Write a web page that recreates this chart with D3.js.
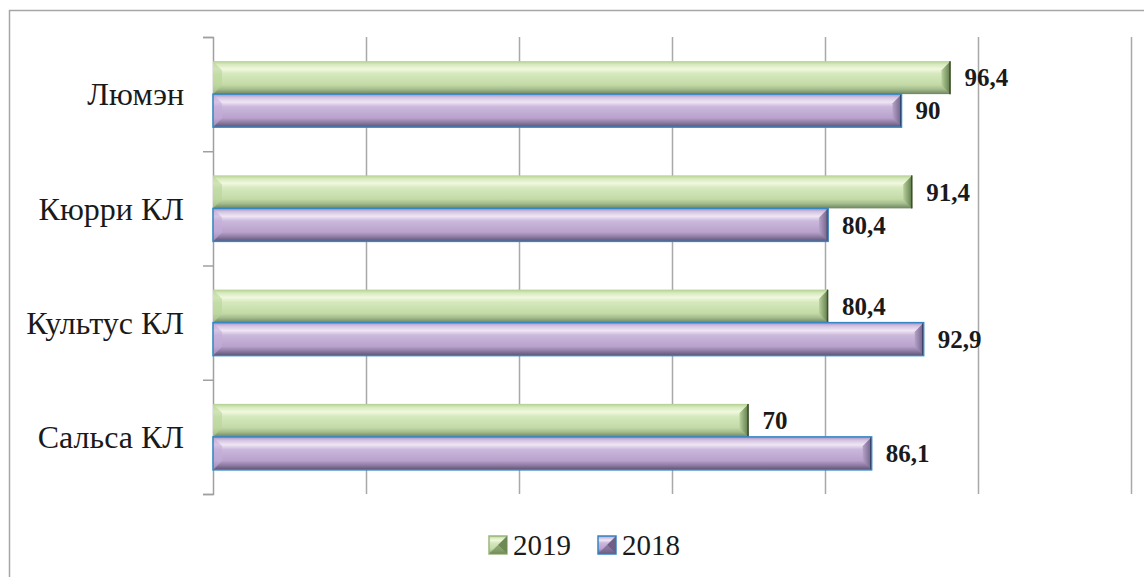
<!DOCTYPE html>
<html>
<head>
<meta charset="utf-8">
<script src="https://cdn.jsdelivr.net/npm/d3@7"></script>
<style>
  body { margin: 0; background: #fff; }
  text { font-family: "Liberation Serif", "DejaVu Serif", "Noto Serif", "Tinos", "FreeSerif", "Times New Roman", Times, serif; }
</style>
</head>
<body>
<div id="chart"></div>
<script>
// Chart data
var categories = ["Люмэн", "Кюрри КЛ", "Культус КЛ", "Сальса КЛ"];
var seriesNames = ["2019", "2018"];
var values2019 = [96.4, 91.4, 80.4, 70];
var values2018 = [90, 80.4, 92.9, 86.1];
var gridTicks = [20, 40, 60, 80, 100, 120];

var svgWidth = 1144;
var svgHeight = 577;

var plot = { left: 213, top: 37, right: 1131, bottom: 494 };

var svg = d3.select("#chart")
  .append("svg")
    .attr("width", svgWidth)
    .attr("height", svgHeight);

var defs = svg.append("defs");

// Gradients for the bevelled bars
function grad(id, vertical, stops) {
  var g = defs.append("linearGradient")
    .attr("id", id)
    .attr("x1", 0).attr("y1", 0)
    .attr("x2", vertical ? 0 : 1).attr("y2", vertical ? 1 : 0);
  stops.forEach(function(s) {
    g.append("stop").attr("offset", s[0]).attr("stop-color", s[1]);
  });
}

grad("g2019", true, [[0, "#b3cf92"], [0.1, "#d6eabd"], [0.24, "#f1f8df"], [0.38, "#d5e9bd"], [0.72, "#c3daa7"], [0.86, "#a2b98a"], [1, "#6d8560"]]);
grad("g2018", true, [[0, "#a88fc2"], [0.1, "#d3c3e2"], [0.24, "#efe6f5"], [0.38, "#cbb8dc"], [0.72, "#b9a2cd"], [0.86, "#8f7ca4"], [1, "#5f5272"]]);
grad("r2019", false, [[0, "#b7d09b"], [1, "#5f7a4a"]]);
grad("r2018", false, [[0, "#b5a2c8"], [1, "#6f5f86"]]);

// Outer chart border
svg.append("rect")
  .attr("x", 9.5)
  .attr("y", 10.5)
  .attr("width", 1160)
  .attr("height", 620)
  .attr("fill", "none")
  .attr("stroke", "#a6a6a6")
  .attr("stroke-width", 1.5);

// Scales
var xScale = d3.scaleLinear()
  .domain([0, 120])
  .range([plot.left, plot.right]);

var yBand = d3.scaleBand()
  .domain(categories)
  .range([plot.top, plot.bottom])
  .padding(0);

var groupHeight = 66;
var ySub = d3.scaleBand()
  .domain(seriesNames)
  .range([(yBand.bandwidth() - groupHeight) / 2, (yBand.bandwidth() + groupHeight) / 2])
  .padding(0);

// Vertical gridlines
svg.append("g")
  .attr("transform", `translate(0, ${plot.bottom})`)
  .call(d3.axisBottom(xScale).tickValues(gridTicks).tickSize(-(plot.bottom - plot.top)).tickFormat(""))
  .call(g => g.select(".domain").remove())
  .call(g => g.selectAll(".tick line").attr("stroke", "#a9a9a9").attr("stroke-width", 1.5));

// Category axis with ticks on band boundaries
var yEdges = d3.scaleLinear().domain([0, categories.length]).range([plot.top, plot.bottom]);
svg.append("g")
  .attr("transform", `translate(${plot.left}, 0)`)
  .call(d3.axisLeft(yEdges).ticks(categories.length).tickSize(10).tickSizeOuter(10).tickFormat(""))
  .call(g => g.select(".domain").attr("stroke", "#a0a0a0").attr("stroke-width", 1.5))
  .call(g => g.selectAll(".tick line").attr("stroke", "#a0a0a0").attr("stroke-width", 1.5));

// Category labels
svg.append("g")
  .selectAll("text")
  .data(categories)
  .enter()
  .append("text")
    .attr("x", 184)
    .attr("y", d => yBand(d) + yBand.bandwidth() / 2)
    .attr("dy", "0.35em")
    .attr("text-anchor", "end")
    .style("font-size", "32px")
    .attr("fill", "#1a1a1a")
    .text(d => d);

// Build rows for bars
var rows = [];
categories.forEach(function(c, i) {
  rows.push({ cat: c, series: "2019", value: values2019[i] });
  rows.push({ cat: c, series: "2018", value: values2018[i] });
});

var bev = 9;
var bars = svg.append("g")
  .selectAll("g")
  .data(rows)
  .enter()
  .append("g")
    .attr("transform", d => `translate(0, ${yBand(d.cat) + ySub(d.series)})`);

var h = ySub.bandwidth();

bars.append("rect")
  .attr("x", xScale(0))
  .attr("y", 0)
  .attr("width", d => xScale(d.value) - xScale(0))
  .attr("height", h)
  .attr("fill", d => d.series === "2019" ? "url(#g2019)" : "url(#g2018)");

// right bevel
bars.append("polygon")
  .attr("points", function(d) {
    var x1 = xScale(d.value);
    return [[x1 - bev, bev], [x1, 0], [x1, h], [x1 - bev, h - bev]].join(" ");
  })
  .attr("fill", d => d.series === "2019" ? "url(#r2019)" : "url(#r2018)");

// left bevel (light)
bars.append("polygon")
  .attr("points", function(d) {
    var x0 = xScale(0);
    return [[x0, 0], [x0 + bev, bev], [x0 + bev, h - bev], [x0, h]].join(" ");
  })
  .attr("fill", d => d.series === "2019" ? "#b9d69a" : "#c3aedb")
  .attr("opacity", 0.6);

// right edge line
bars.append("line")
  .attr("x1", d => xScale(d.value) - 0.5)
  .attr("x2", d => xScale(d.value) - 0.5)
  .attr("y1", 0)
  .attr("y2", h)
  .attr("stroke", d => d.series === "2019" ? "#3d4f2c" : "#142447")
  .attr("stroke-width", 1.5);

// blue outline on 2018 bars
bars.filter(d => d.series === "2018")
  .append("rect")
    .attr("x", xScale(0))
    .attr("y", 0)
    .attr("width", d => xScale(d.value) - xScale(0))
    .attr("height", h)
    .attr("fill", "none")
    .attr("stroke", "#3487c4")
    .attr("stroke-width", 1.5);

// Value labels
bars.append("text")
  .attr("x", d => xScale(d.value) + 14)
  .attr("y", h / 2)
  .attr("dy", "0.35em")
  .style("font-size", "25px")
  .style("font-weight", "bold")
  .attr("fill", "#1a1a1a")
  .text(d => String(d.value).replace(".", ","));

// Legend
var legendItems = [
  { name: "2019", x: 489, fill: "url(#g2019)", side: "#6d8a55", edge: "#9ab87e" },
  { name: "2018", x: 598, fill: "url(#g2018)", side: "#6f5f86", edge: "#3487c4" }
];
var legend = svg.append("g")
  .selectAll("g")
  .data(legendItems)
  .enter()
  .append("g")
    .attr("transform", d => `translate(${d.x}, 536)`);

legend.append("rect")
  .attr("width", 18)
  .attr("height", 18)
  .attr("fill", d => d.fill)
  .attr("stroke", d => d.edge)
  .attr("stroke-width", 1.5);

legend.append("polygon")
  .attr("points", "9,9 18,0 18,18")
  .attr("fill", d => d.side);

legend.append("polygon")
  .attr("points", "9,9 0,18 18,18")
  .attr("fill", d => d.side)
  .attr("opacity", 0.7);

legend.append("text")
  .attr("x", 24)
  .attr("y", 9)
  .attr("dy", "0.35em")
  .style("font-size", "29px")
  .attr("fill", "#1a1a1a")
  .text(d => d.name);
</script>
</body>
</html>
